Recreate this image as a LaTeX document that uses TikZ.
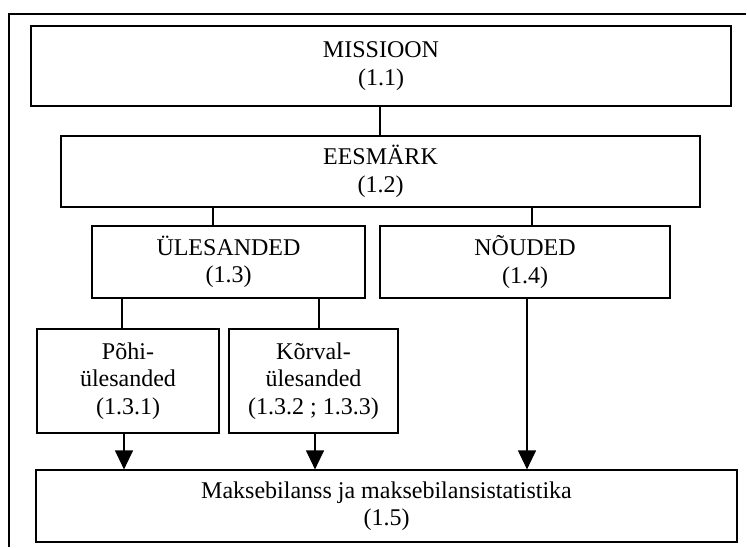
\documentclass[tikz,border=0pt]{standalone}
\usepackage{fontspec}
\setmainfont{Liberation Serif}
\usetikzlibrary{arrows.meta}
\begin{document}
\begin{tikzpicture}[x=1pt,y=-1pt,
  box/.style={draw,line width=1.2pt,rectangle,align=center,inner sep=0pt,
    font=\fontsize{24}{27.5}\selectfont},
  link/.style={line width=1.2pt},
  flow/.style={line width=1.2pt,-{Triangle[width=18pt,length=19pt]}}]
\useasboundingbox (0,0) rectangle (747,547);
% page frame (top and left edges)
\draw[line width=1.2pt] (746,14) -- (9,14) -- (9,547);
% boxes
\node[box,minimum width=700,minimum height=80] (mis) at (381,66) {MISSIOON\\(1.1)};
\node[box,minimum width=639,minimum height=71] (ees) at (380.5,171.5) {EESMÄRK\\(1.2)};
\node[box,minimum width=273,minimum height=72] (ule) at (228.5,262) {ÜLESANDED\\(1.3)};
\node[box,minimum width=290,minimum height=72] (nou) at (525,262) {NÕUDED\\(1.4)};
\node[box,minimum width=182,minimum height=104] (pohi) at (128,381) {Põhi-\\ülesanded\\(1.3.1)};
\node[box,minimum width=169,minimum height=104] (korv) at (313.5,381) {Kõrval-\\ülesanded\\(1.3.2 ; 1.3.3)};
\node[box,minimum width=701,minimum height=72] (makse) at (386.5,506) {Maksebilanss ja maksebilansistatistika\\(1.5)};
% connectors
\draw[link] (mis.south -| 380,0) -- (ees.north -| 380,0);
\draw[link] (ees.south -| 213,0) -- (ule.north -| 213,0);
\draw[link] (ees.south -| 532,0) -- (nou.north -| 532,0);
\draw[link] (ule.south -| 122,0) -- (pohi.north -| 122,0);
\draw[link] (ule.south -| 319,0) -- (korv.north -| 319,0);
\draw[flow] (pohi.south -| 124,0) -- (makse.north -| 124,0);
\draw[flow] (korv.south -| 315,0) -- (makse.north -| 315,0);
\draw[flow] (nou.south -| 527,0) -- (makse.north -| 527,0);
\end{tikzpicture}
\end{document}
